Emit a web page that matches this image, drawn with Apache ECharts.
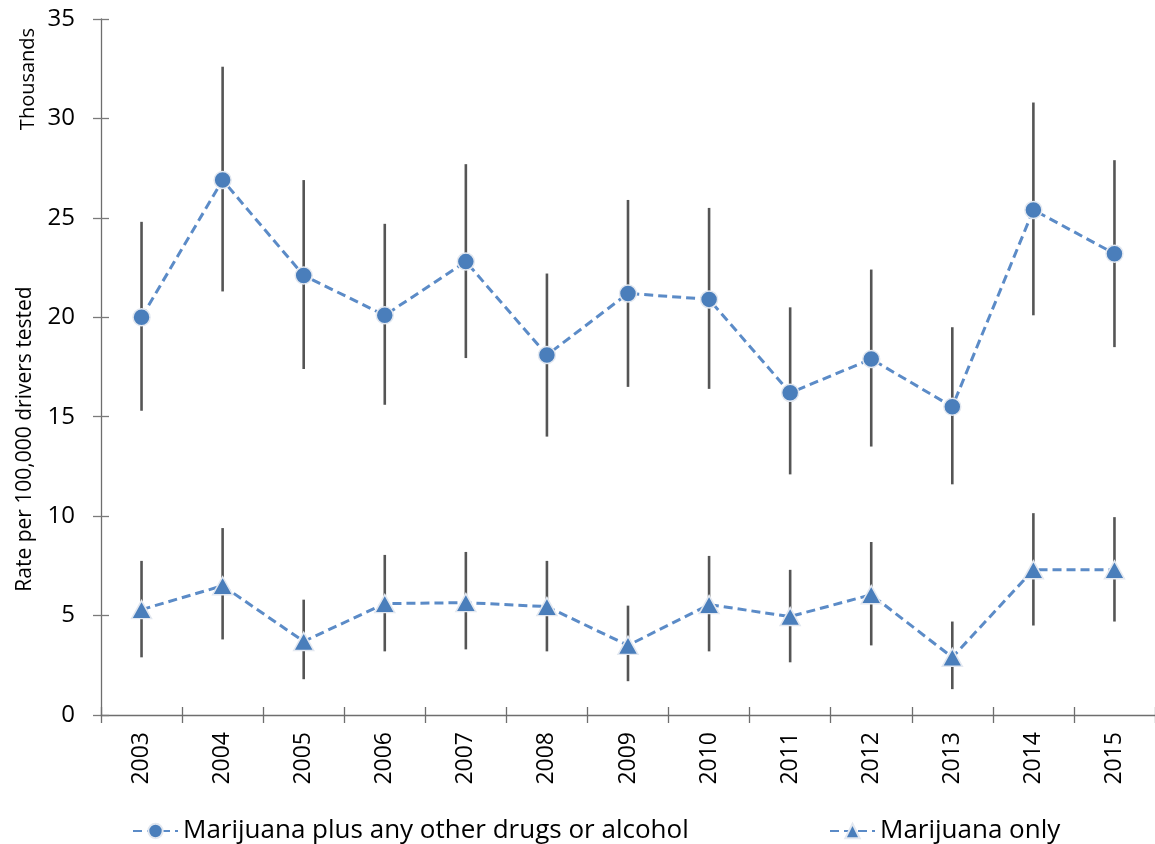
<!DOCTYPE html>
<html>
<head>
<meta charset="utf-8">
<script src="https://cdn.jsdelivr.net/npm/echarts@6/dist/echarts.min.js"></script>
<style>
html,body{margin:0;padding:0;background:#fff;}
#chart{width:1155px;height:844px;}
</style>
</head>
<body>
<div id="chart"></div>
<script>
const years = ['2003','2004','2005','2006','2007','2008','2009','2010','2011','2012','2013','2014','2015'];
const yTicks = [0,5,10,15,20,25,30,35];
const combinedName = 'Marijuana plus any other drugs or alcohol';
const combined     = [20.0, 26.9, 22.1, 20.1, 22.8, 18.1, 21.2, 20.9, 16.2, 17.9, 15.5, 25.4, 23.2];
const combinedLow  = [15.3, 21.3, 17.4, 15.6, 17.95, 14.0, 16.5, 16.4, 12.1, 13.5, 11.6, 20.1, 18.5];
const combinedHigh = [24.8, 32.6, 26.9, 24.7, 27.7, 22.2, 25.9, 25.5, 20.5, 22.4, 19.5, 30.8, 27.9];
const onlyName = 'Marijuana only';
const only     = [5.3, 6.5, 3.7, 5.6, 5.65, 5.45, 3.5, 5.55, 4.95, 6.05, 2.9, 7.3, 7.3];
const onlyLow  = [2.9, 3.8, 1.8, 3.2, 3.3, 3.2, 1.7, 3.2, 2.65, 3.5, 1.3, 4.5, 4.7];
const onlyHigh = [7.75, 9.4, 5.8, 8.05, 8.2, 7.75, 5.5, 8.0, 7.3, 8.7, 4.7, 10.15, 9.95];

const FONT = 'Open Sans';
const lineColor = '#5b8bc7';
const markColor = '#4a7ebb';
const axisColor = '#6e6e6e';

function errData(low, high){ return years.map((y,i)=>[i, low[i], high[i]]); }
function errRender(params, api){
  const x = api.value(0);
  const lo = api.coord([x, api.value(1)]);
  const hi = api.coord([x, api.value(2)]);
  return {type:'line', shape:{x1:lo[0], y1:lo[1], x2:hi[0], y2:hi[1]},
          style:{stroke:'#555555', lineWidth:2.6}};
}

const chart = echarts.init(document.getElementById('chart'));
chart.setOption({
  animation:false,
  backgroundColor:'#ffffff',
  grid:{left:101, top:19, width:1062, height:696, containLabel:false},
  xAxis:[{
    type:'category', data:years, position:'bottom', boundaryGap:true,
    axisLine:{lineStyle:{color:axisColor, width:1.3}},
    axisTick:{show:true, interval:0, length:8, inside:false, lineStyle:{color:axisColor, width:1.3}},
    axisLabel:{interval:0, rotate:90, margin:17, color:'#000', fontFamily:FONT, fontSize:23},
    splitLine:{show:false}
  },{
    type:'category', data:years, position:'bottom', boundaryGap:true,
    axisLine:{show:false},
    axisTick:{show:true, interval:0, length:8, inside:true, lineStyle:{color:axisColor, width:1.3}},
    axisLabel:{show:false}, splitLine:{show:false}
  }],
  yAxis:[{
    type:'value', min:yTicks[0], max:yTicks[yTicks.length-1], interval:5, position:'left',
    axisLine:{show:true, lineStyle:{color:axisColor, width:1.3}},
    axisTick:{show:true, length:8, inside:false, lineStyle:{color:'#7a7a7a', width:1.3}},
    axisLabel:{margin:26, color:'#000', fontFamily:FONT, fontSize:24},
    splitLine:{show:false}
  },{
    type:'value', min:yTicks[0], max:yTicks[yTicks.length-1], interval:5, position:'left',
    axisLine:{show:false},
    axisTick:{show:true, length:8, inside:true, lineStyle:{color:'#7a7a7a', width:1.3}},
    axisLabel:{show:false}, splitLine:{show:false}
  }],
  legend:[{
    data:[combinedName], left:127, top:813, itemWidth:45, itemHeight:18, itemGap:10,
    textStyle:{fontFamily:FONT, fontSize:26, color:'#000'}
  },{
    data:[onlyName], left:824, top:813, itemWidth:45, itemHeight:18, itemGap:10,
    textStyle:{fontFamily:FONT, fontSize:26, color:'#000'}
  }],
  graphic:[{
    type:'text', x:28, y:79, rotation:Math.PI/2,
    style:{text:'Thousands', fontFamily:FONT, fontSize:20, fill:'#000', textAlign:'center', textVerticalAlign:'middle'}
  },{
    type:'text', x:25, y:439, rotation:Math.PI/2,
    style:{text:'Rate per 100,000 drivers tested', fontFamily:FONT, fontSize:21, fill:'#000', textAlign:'center', textVerticalAlign:'middle'}
  }],
  series:[{
    type:'custom', name:'err1', renderItem:errRender, data:errData(combinedLow, combinedHigh),
    encode:{x:0, y:[1,2]}, z:1, silent:true
  },{
    type:'custom', name:'err2', renderItem:errRender, data:errData(onlyLow, onlyHigh),
    encode:{x:0, y:[1,2]}, z:1, silent:true
  },{
    type:'line', name:combinedName, data:combined, z:3,
    symbol:'circle', symbolSize:17, showAllSymbol:true,
    lineStyle:{color:lineColor, width:3, type:[9,5]},
    itemStyle:{color:markColor, borderColor:'#e3e8f0', borderWidth:1.5}
  },{
    type:'line', name:onlyName, data:only, z:3,
    symbol:'triangle', symbolSize:[20,18], showAllSymbol:true,
    lineStyle:{color:lineColor, width:3, type:[9,5]},
    itemStyle:{color:markColor, borderColor:'#e3e8f0', borderWidth:1.5}
  }]
});
</script>
</body>
</html>
